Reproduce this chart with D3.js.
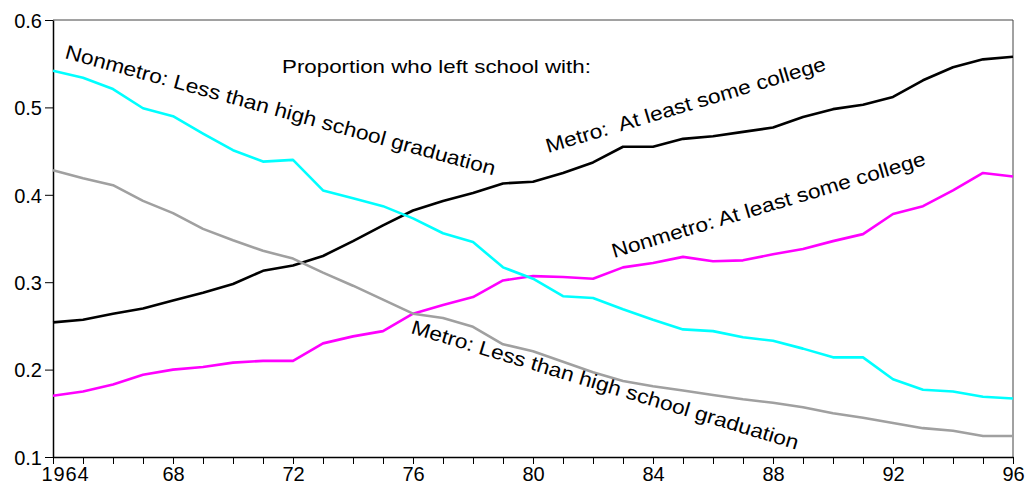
<!DOCTYPE html>
<html><head><meta charset="utf-8">
<script src="https://cdn.jsdelivr.net/npm/d3@7"></script>
<style>
body{margin:0;background:#fff;}
svg{display:block;font-family:"Liberation Sans",Arial,sans-serif;}
</style></head>
<body><svg id="c" width="1026" height="490"></svg>
<script>
const years = d3.range(1964, 1997);
const metroCollege = [0.254,0.257,0.264,0.270,0.279,0.288,0.298,0.313,0.319,0.330,0.347,0.365,0.382,0.393,0.402,0.413,0.415,0.425,0.437,0.455,0.455,0.464,0.467,0.472,0.477,0.489,0.498,0.503,0.512,0.531,0.546,0.555,0.558];
const nonmetroCollege = [0.170,0.175,0.183,0.194,0.200,0.203,0.208,0.210,0.210,0.230,0.238,0.244,0.264,0.274,0.283,0.302,0.307,0.306,0.304,0.317,0.322,0.329,0.324,0.325,0.332,0.338,0.347,0.355,0.378,0.387,0.405,0.425,0.421];
const nonmetroLess = [0.542,0.534,0.521,0.499,0.490,0.470,0.451,0.438,0.440,0.405,0.396,0.387,0.373,0.356,0.346,0.317,0.304,0.284,0.282,0.269,0.257,0.246,0.244,0.237,0.233,0.224,0.214,0.214,0.189,0.177,0.175,0.169,0.167];
const metroLess = [0.428,0.419,0.411,0.393,0.379,0.361,0.348,0.336,0.327,0.311,0.296,0.280,0.264,0.259,0.249,0.229,0.221,0.209,0.197,0.187,0.181,0.176,0.171,0.166,0.162,0.157,0.150,0.145,0.139,0.133,0.130,0.124,0.124];
const yTicks = [0.1,0.2,0.3,0.4,0.5,0.6];
const xLabelYears = [1964,1968,1972,1976,1980,1984,1988,1992,1996];
const xLabels = ["1964","68","72","76","80","84","88","92","96"];
const seriesColors = ["#000000","#ff00ff","#00ffff","#a0a0a0"];
const seriesData = [metroCollege, nonmetroCollege, nonmetroLess, metroLess];
const annoTitle = "Proportion who left school with:";
const annoLabels = ["Metro:  At least some college","Nonmetro: At least some college","Nonmetro: Less than high school graduation","Metro: Less than high school graduation"];

const svg = d3.select("#c");
const L=53, R=1013, T=20, B=457;
const x = d3.scaleLinear().domain([1964,1996]).range([L,R]);
const y = d3.scaleLinear().domain([0.1,0.6]).range([B,T]);

// frame top/right
svg.append("path").attr("d",`M${L},${T}H${R}V${B}`).attr("fill","none").attr("stroke","#444").attr("stroke-width",1);

// y axis
const ya = svg.append("g").attr("transform",`translate(${L},0)`)
  .call(d3.axisLeft(y).tickValues(yTicks).tickFormat(d3.format(".1f")).tickSize(8).tickSizeOuter(0));
ya.select(".domain").attr("stroke","#000").attr("stroke-width",1.5);
ya.selectAll(".tick line").attr("stroke","#000");
ya.selectAll("text").attr("font-size",20).attr("fill","#000").attr("x",-11).attr("dy","0.36em").attr("font-family","Liberation Sans, Arial, sans-serif");

// x axis
const xa = svg.append("g").attr("transform",`translate(0,${B})`)
  .call(d3.axisBottom(x).tickValues(years).tickFormat(d=>{const i=xLabelYears.indexOf(d);return i>=0?xLabels[i]:"";}).tickSize(7).tickSizeOuter(0));
xa.select(".domain").attr("stroke","#000").attr("stroke-width",1.5);
xa.selectAll(".tick line").attr("stroke","#000");
xa.selectAll("text").attr("font-size",20).attr("fill","#000").attr("y",10).attr("dy","0.71em").attr("font-family","Liberation Sans, Arial, sans-serif");
xa.selectAll(".tick").filter(d=>d===1964).select("text").attr("text-anchor","start").attr("x",-12).attr("textLength",47).attr("lengthAdjust","spacing");

// lines
const line = d3.line().x((d,i)=>x(years[i])).y(d=>y(d));
seriesData.forEach((s,k)=>{
  svg.append("path").datum(s).attr("d",line).attr("fill","none")
    .attr("stroke",seriesColors[k]).attr("stroke-width",2.6).attr("stroke-linejoin","round");
});

// annotations
svg.append("text").attr("transform","translate(282,73) scale(1.175,1)").attr("font-size",19).text(annoTitle);
const annoPos = [[548,153,-16.6],[614,258,-16.6],[64,58,15.3],[410,333,16.8]];
annoLabels.forEach((t,i)=>{
  const [ax,ay,ang]=annoPos[i];
  svg.append("text").attr("transform",`translate(${ax},${ay}) rotate(${ang}) scale(1.135,1)`)
    .attr("font-size",20).style("white-space","pre").text(t);
});
</script></body></html>
